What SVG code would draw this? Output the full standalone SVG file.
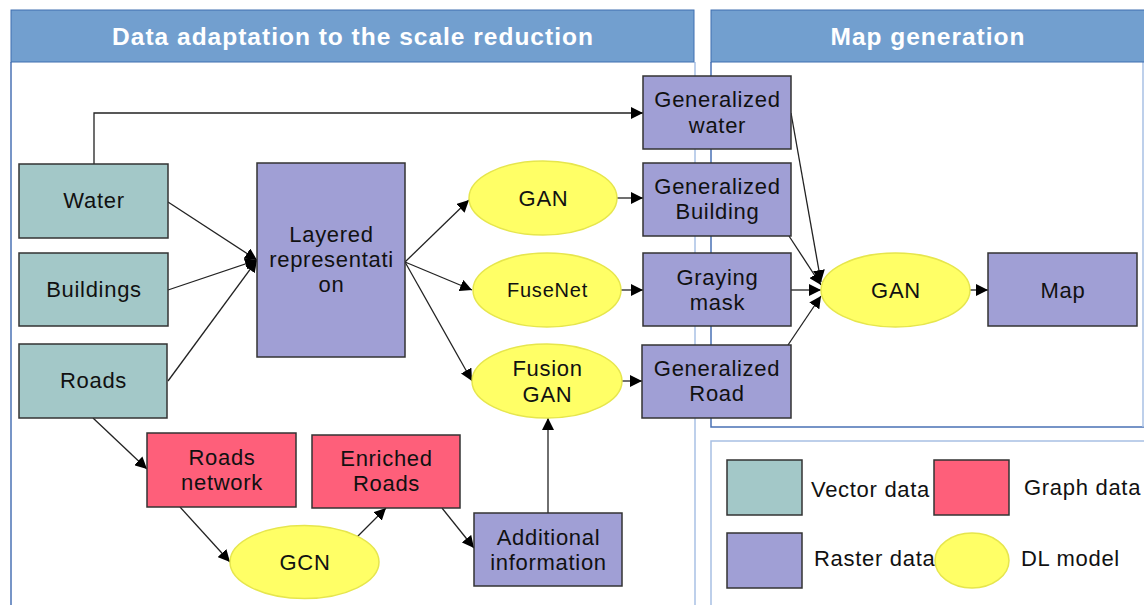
<svg xmlns="http://www.w3.org/2000/svg" width="1144" height="605" viewBox="0 0 1144 605">
<defs>
<marker id="ah" viewBox="0 0 10 10" refX="10" refY="5" markerWidth="12" markerHeight="12" markerUnits="userSpaceOnUse" orient="auto">
<path d="M0,0 L10,5 L0,10 z" fill="#000"/>
</marker>
<style>
.hdr{fill:#729fcf;stroke:#3f6fb0;stroke-width:1}
.hdrt{font-family:"Liberation Sans",Arial,sans-serif;font-size:24.5px;font-weight:bold;fill:#fff;text-anchor:middle;letter-spacing:1px}
.vec{fill:#a3c8c8;stroke:#333;stroke-width:1.5}
.ras{fill:#a09fd5;stroke:#333;stroke-width:1.5}
.gra{fill:#fe5f7a;stroke:#333;stroke-width:1.5}
.dl{fill:#ffff66;stroke:#e6e64d;stroke-width:1.5}
.t{font-family:"Liberation Sans",Arial,sans-serif;font-size:22px;fill:#111;text-anchor:middle;letter-spacing:0.7px}
.lt{font-family:"Liberation Sans",Arial,sans-serif;font-size:22px;fill:#111;letter-spacing:0.7px}
.c{fill:none;stroke:#222;stroke-width:1.3;marker-end:url(#ah)}
.pb{fill:none;stroke:#a8c0e4;stroke-width:1.5}
.pd{fill:none;stroke:#4a72b5;stroke-width:1.5}
</style>
</defs>
<rect width="1144" height="605" fill="#fff"/>
<g id="panels">
<path class="pd" d="M11,62 V605"/>
<path class="pb" d="M695,62 V605"/>
<path class="pd" d="M711,62 V427 H1144"/>
<path class="pb" d="M1143,62 V427"/>
<path class="pb" d="M711,605 V441 H1144"/>
<rect class="hdr" x="11" y="10" width="683" height="52"/>
<text class="hdrt" x="353" y="45">Data adaptation to the scale reduction</text>
<rect class="hdr" x="711" y="10" width="440" height="52"/>
<text class="hdrt" x="928" y="45">Map generation</text>
</g>
<g id="connectors">
<path class="c" d="M94,164 V113 H643"/>
<path class="c" d="M168,202 L257,260"/>
<path class="c" d="M168,290 L257,260"/>
<path class="c" d="M168,381 L257,260"/>
<path class="c" d="M405,262 L469,200"/>
<path class="c" d="M405,262 L472,290"/>
<path class="c" d="M405,262 L472,381"/>
<path class="c" d="M617,198 L643,198"/>
<path class="c" d="M621,290 L643,290"/>
<path class="c" d="M622,381 L642,381"/>
<path class="c" d="M791,113 L821,282"/>
<path class="c" d="M789,236 L821,285"/>
<path class="c" d="M791,290 L821,290"/>
<path class="c" d="M788,345 L821,296"/>
<path class="c" d="M970,290 L988,290"/>
<path class="c" d="M93,418 L147,469"/>
<path class="c" d="M180,507 L230,562"/>
<path class="c" d="M357,537 L386,508"/>
<path class="c" d="M442,508 L474,548"/>
<path class="c" d="M548,513 L548,418"/>
</g>
<g id="water"><rect class="vec" x="19" y="164" width="149" height="74"/><text class="t" x="94" y="208">Water</text></g>
<g id="buildings"><rect class="vec" x="19" y="253" width="149" height="73"/><text class="t" x="94" y="297">Buildings</text></g>
<g id="roads"><rect class="vec" x="19" y="344" width="148" height="74"/><text class="t" x="93.5" y="388">Roads</text></g>
<g id="layered"><rect class="ras" x="257" y="163" width="148" height="194"/><text class="t" x="331.5" y="242">Layered</text><text class="t" x="331.5" y="267">representati</text><text class="t" x="331.5" y="292">on</text></g>
<g id="gan1"><ellipse class="dl" cx="543" cy="198" rx="74" ry="37"/><text class="t" x="543.5" y="206">GAN</text></g>
<g id="fusenet"><ellipse class="dl" cx="547" cy="290" rx="74" ry="37"/><text class="t" x="547.5" y="297" style="font-size:20px;letter-spacing:0.8px">FuseNet</text></g>
<g id="fusiongan"><ellipse class="dl" cx="547" cy="381" rx="75" ry="37"/><text class="t" x="547.5" y="376">Fusion</text><text class="t" x="547.5" y="402">GAN</text></g>
<g id="genwater"><rect class="ras" x="643" y="76" width="148" height="73"/><text class="t" x="717.5" y="107">Generalized</text><text class="t" x="717.5" y="133">water</text></g>
<g id="genbuilding"><rect class="ras" x="643" y="163" width="148" height="73"/><text class="t" x="717.5" y="194">Generalized</text><text class="t" x="717.5" y="219">Building</text></g>
<g id="graying"><rect class="ras" x="643" y="253" width="148" height="73"/><text class="t" x="717.5" y="285">Graying</text><text class="t" x="717.5" y="310">mask</text></g>
<g id="genroad"><rect class="ras" x="642" y="345" width="149" height="73"/><text class="t" x="717" y="376">Generalized</text><text class="t" x="717" y="401">Road</text></g>
<g id="gan2"><ellipse class="dl" cx="895.5" cy="290" rx="74.5" ry="37"/><text class="t" x="896" y="298">GAN</text></g>
<g id="map"><rect class="ras" x="988" y="253" width="149" height="73"/><text class="t" x="1063" y="298">Map</text></g>
<g id="roadsnet"><rect class="gra" x="147" y="433" width="149" height="74"/><text class="t" x="222" y="465">Roads</text><text class="t" x="222" y="490">network</text></g>
<g id="enriched"><rect class="gra" x="312" y="435" width="148" height="73"/><text class="t" x="386.5" y="466">Enriched</text><text class="t" x="386.5" y="491">Roads</text></g>
<g id="gcn"><ellipse class="dl" cx="304.5" cy="562" rx="74.5" ry="36.5"/><text class="t" x="305" y="570">GCN</text></g>
<g id="additional"><rect class="ras" x="474" y="513" width="148" height="73"/><text class="t" x="548.5" y="545">Additional</text><text class="t" x="548.5" y="570">information</text></g>
<g id="legend">
<rect class="vec" x="727" y="460" width="75" height="55"/>
<text class="lt" x="811" y="497">Vector data</text>
<rect class="gra" x="934" y="460" width="75" height="55"/>
<text class="lt" x="1024" y="495">Graph data</text>
<rect class="ras" x="727" y="533" width="75" height="55"/>
<text class="lt" x="814" y="566">Raster data</text>
<ellipse class="dl" cx="972" cy="560.5" rx="37" ry="27.5"/>
<text class="lt" x="1021" y="566">DL model</text>
</g>
</svg>
